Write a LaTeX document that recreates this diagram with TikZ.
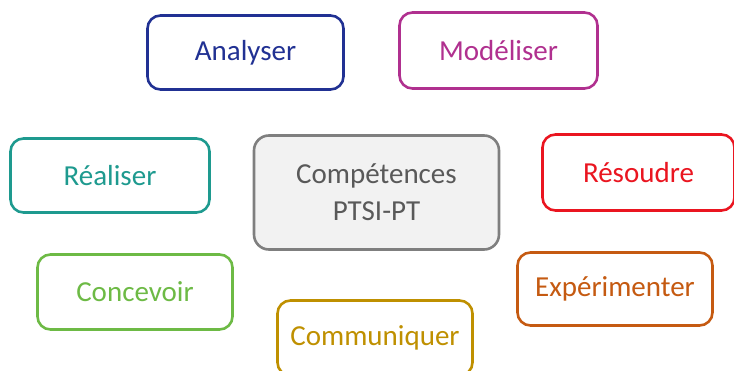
\documentclass[tikz,border=0pt]{standalone}
\usepackage{fontspec}
\setmainfont{Carlito}
\definecolor{cblue}{HTML}{213193}
\definecolor{cmag}{HTML}{B0308F}
\definecolor{cteal}{HTML}{1E9A8F}
\definecolor{cred}{HTML}{EA1520}
\definecolor{cgreen}{HTML}{6DBA45}
\definecolor{corange}{HTML}{C55A11}
\definecolor{cgold}{HTML}{BF9000}
\definecolor{cgreyb}{HTML}{7F7F7F}
\definecolor{cgreyt}{HTML}{595959}
\definecolor{cgreyf}{HTML}{F2F2F2}
\tikzset{
  skill/.style={draw=#1, text=#1, line width=2.6pt, rounded corners=13pt,
    fill=white, inner sep=0pt, font=\fontsize{29}{36}\selectfont},
  center/.style={draw=cgreyb, text=cgreyt, fill=cgreyf, line width=2.6pt,
    rounded corners=15pt, inner sep=0pt, align=center,
    font=\fontsize{29}{37}\selectfont, minimum width=245pt, minimum height=114pt}
}
\begin{document}
\begin{tikzpicture}[x=1pt,y=-1pt]
\useasboundingbox (0,0) rectangle (734,371);
\clip (0,0) rectangle (734,371);
\node[skill=cblue, minimum width=196pt, minimum height=74pt] (ana) at (245.5,52.5) {Analyser};
\node[skill=cmag, minimum width=198pt, minimum height=76pt] (mod) at (498.5,50.5) {Modéliser};
\node[skill=cteal, minimum width=199pt, minimum height=74pt] (rea) at (110,175.5) {Réaliser};
\node[center] (comp) at (376.5,192.5) {Compétences\\PTSI-PT};
\node[skill=cred, minimum width=192pt, minimum height=76pt] (res) at (638.5,172.5) {Résoudre};
\node[skill=cgreen, minimum width=195pt, minimum height=75pt] (conc) at (135,292) {Concevoir};
\node[skill=corange, minimum width=195pt, minimum height=73pt] (exp) at (615,289) {Expérimenter};
\node[skill=cgold, minimum width=195pt, minimum height=75pt] (comm) at (375,338) {};
\node[text=cgold, font=\fontsize{29}{36}\selectfont, inner sep=0pt] (commt) at (375,338) {Communiquer};
\end{tikzpicture}
\end{document}
